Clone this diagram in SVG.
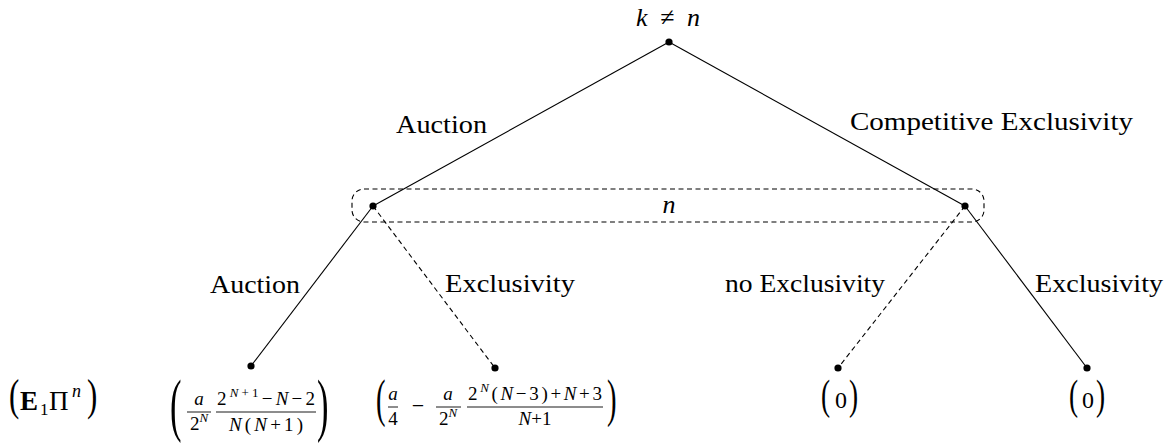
<svg xmlns="http://www.w3.org/2000/svg" width="1175" height="443" viewBox="0 0 1175 443">
<style>
text{font-family:'Liberation Serif','Times New Roman',Times,Tinos,'Noto Serif','Nimbus Roman','Nimbus Roman No9 L',FreeSerif,'DejaVu Serif',Georgia,serif;fill:#000}
.lbl{font-size:26px}
.m{font-size:19px}
.i{font-style:italic}
.sup{font-size:13px;font-style:italic}
.e{stroke:#000;stroke-width:1.1;fill:none}
.d{stroke:#000;stroke-width:1.1;fill:none;stroke-dasharray:5,3.5}
.bar{stroke:#000;stroke-width:0.9}
.dot{fill:#000}
</style>
<rect width="1175" height="443" fill="#fff"/>
<g id="connectors">
<line class="e" x1="669" y1="42" x2="373" y2="206"/>
<line class="e" x1="669" y1="42" x2="965" y2="206"/>
<line class="e" x1="373" y1="206" x2="251" y2="366"/>
<line class="d" x1="373" y1="206" x2="495" y2="368"/>
<line class="d" x1="965" y1="206" x2="838" y2="368"/>
<line class="e" x1="965" y1="206" x2="1087" y2="368"/>
<text class="lbl" x="396" y="133" textLength="91" lengthAdjust="spacingAndGlyphs">Auction</text>
<text class="lbl" x="850" y="130" textLength="283" lengthAdjust="spacingAndGlyphs">Competitive Exclusivity</text>
<text class="lbl" x="210" y="293" textLength="90" lengthAdjust="spacingAndGlyphs">Auction</text>
<text class="lbl" x="445" y="292" textLength="130" lengthAdjust="spacingAndGlyphs">Exclusivity</text>
<text class="lbl" x="725" y="292" textLength="160" lengthAdjust="spacingAndGlyphs">no Exclusivity</text>
<text class="lbl" x="1035" y="292" textLength="128" lengthAdjust="spacingAndGlyphs">Exclusivity</text>
</g>
<g id="root">
<circle class="dot" cx="669" cy="42" r="3.6"/>
<text class="lbl" x="636" y="26" textLength="64" lengthAdjust="spacing"><tspan class="i">k</tspan> ≠ <tspan class="i">n</tspan></text>
</g>
<g id="info-set">
<rect class="d" x="352" y="189" width="632" height="33" rx="12"/>
<text class="lbl i" x="669" y="213" text-anchor="middle">n</text>
</g>
<g id="node-left"><circle class="dot" cx="373" cy="206" r="3.6"/></g>
<g id="node-right"><circle class="dot" cx="965" cy="206" r="3.6"/></g>
<g id="leaf-1"><circle class="dot" cx="251" cy="366" r="3.6"/></g>
<g id="leaf-2"><circle class="dot" cx="495" cy="368" r="3.6"/></g>
<g id="leaf-3"><circle class="dot" cx="838" cy="368" r="3.6"/></g>
<g id="leaf-4"><circle class="dot" cx="1087" cy="368" r="3.6"/></g>
<g id="payoff-label">
<text transform="translate(9,410) scale(0.7,1)" font-size="44">(</text>
<text x="20" y="410" font-size="27" font-weight="bold">E</text>
<text x="40" y="415" font-size="17">1</text>
<text x="49" y="410" font-size="27">Π</text>
<text x="72" y="397" font-size="18" font-style="italic">n</text>
<text transform="translate(87,410) scale(0.7,1)" font-size="44">)</text>
</g>
<g id="payoff-1">
<text transform="translate(170,428) scale(0.5,1)" font-size="69">(</text>
<text class="m i" x="199" y="405" text-anchor="middle">a</text>
<line class="bar" x1="187" y1="412" x2="211" y2="412"/>
<text class="m" x="199" y="430" text-anchor="middle">2<tspan class="sup" dy="-8">N</tspan></text>
<text class="m" x="266" y="405" text-anchor="middle" textLength="98" lengthAdjust="spacing">2<tspan class="sup" dy="-8">N</tspan><tspan font-size="13" dy="0">+1</tspan><tspan dy="8">−</tspan><tspan class="i">N</tspan>−2</text>
<line class="bar" x1="216" y1="412" x2="316" y2="412"/>
<text class="m" x="266" y="431" text-anchor="middle" textLength="74" lengthAdjust="spacing"><tspan class="i">N</tspan>(<tspan class="i">N</tspan>+1)</text>
<text transform="translate(317,428) scale(0.5,1)" font-size="69">)</text>
</g>
<g id="payoff-2">
<text transform="translate(376,416) scale(0.55,1)" font-size="52">(</text>
<text class="m i" x="393" y="400" text-anchor="middle">a</text>
<line class="bar" x1="388" y1="407" x2="398" y2="407"/>
<text class="m" x="393" y="425" text-anchor="middle">4</text>
<text x="418" y="413" font-size="22" text-anchor="middle">−</text>
<text class="m i" x="448" y="400" text-anchor="middle">a</text>
<line class="bar" x1="436" y1="407" x2="461" y2="407"/>
<text class="m" x="448" y="425" text-anchor="middle">2<tspan class="sup" dy="-8">N</tspan></text>
<text class="m" x="535" y="400" text-anchor="middle" textLength="134" lengthAdjust="spacing">2<tspan class="sup" dy="-8">N</tspan><tspan dy="8">(</tspan><tspan class="i">N</tspan>−3)+<tspan class="i">N</tspan>+3</text>
<line class="bar" x1="467" y1="407" x2="603" y2="407"/>
<text class="m" x="535" y="425" text-anchor="middle"><tspan class="i">N</tspan>+1</text>
<text transform="translate(607,416) scale(0.55,1)" font-size="52">)</text>
</g>
<g id="payoff-3">
<text transform="translate(821,409) scale(0.65,1)" font-size="42">(</text>
<text x="841" y="408" font-size="24" text-anchor="middle">0</text>
<text transform="translate(849,409) scale(0.65,1)" font-size="42">)</text>
</g>
<g id="payoff-4">
<text transform="translate(1069,409) scale(0.65,1)" font-size="42">(</text>
<text x="1088" y="408" font-size="24" text-anchor="middle">0</text>
<text transform="translate(1096,409) scale(0.65,1)" font-size="42">)</text>
</g>
</svg>
